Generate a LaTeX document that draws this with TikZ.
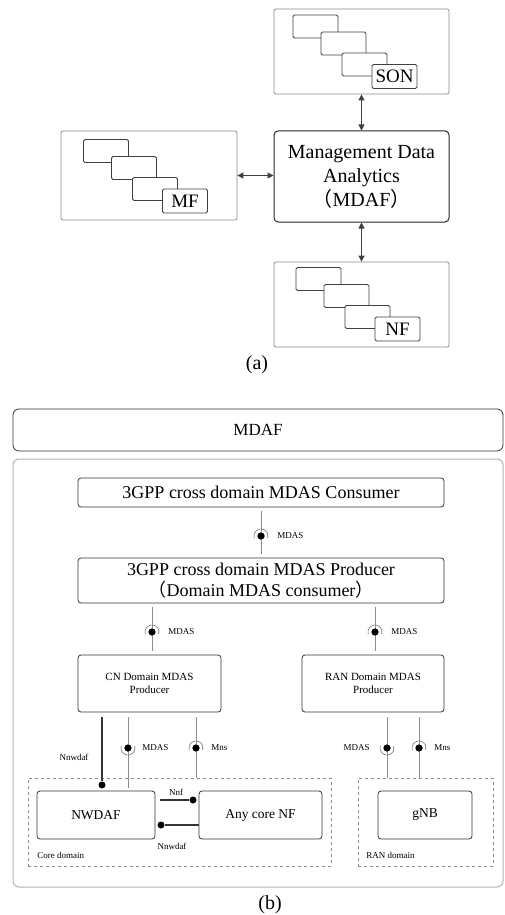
\documentclass[tikz,border=0pt]{standalone}
\usepackage{fontspec}
\setmainfont{Liberation Serif}
\newfontfamily\cjk{Noto Sans CJK SC}
\usetikzlibrary{arrows.meta,positioning}

\newcommand{\fwl}{{\cjk （}}
\newcommand{\fwr}{{\cjk ）}}
% socket arcs round an interface ball
\newcommand{\sockup}[1]{\draw[socket] ([shift={(195:7pt)}]#1.center) arc[start angle=195, end angle=-15, radius=7pt];}
\newcommand{\sockdown}[1]{\draw[socket] ([shift={(165:7pt)}]#1.center) arc[start angle=165, end angle=375, radius=7pt];}

\begin{document}
\begin{tikzpicture}[x=1pt, y=-1pt, semithick,
    frame/.style={draw=black!45, rounded corners=2pt, line width=0.8pt},
    card/.style={draw=black!75, fill=white, rounded corners=1.5pt, minimum width=45pt, minimum height=23pt, inner sep=0pt, line width=0.8pt},
    tag/.style={card, minimum height=24pt, font=\fontsize{19}{19}\selectfont},
    mainbox/.style={draw=black!85, rounded corners=4pt, line width=1pt, align=center},
    block/.style={draw=black!80, rounded corners=3pt, line width=0.8pt, align=center},
    zonebox/.style={draw=black!45, dashed, line width=0.6pt},
    twoway/.style={{Triangle[length=6pt,width=6pt]}-{Triangle[length=6pt,width=6pt]}, draw=black!75, line width=0.9pt},
    ifline/.style={draw=black!45, line width=0.7pt},
    nline/.style={draw=black!80, line width=1.1pt},
    socket/.style={draw=black!55, line width=0.6pt},
    ball/.style={circle, fill=black, inner sep=0pt, minimum size=7pt},
    iflabel/.style={font=\fontsize{9}{11}\selectfont, inner sep=1pt}]
    \useasboundingbox (0,0) rectangle (504,915);

    % (a)
    \node[frame, minimum width=175pt, minimum height=85pt] (son) at (361.5,51.5) {};
    \node[frame, minimum width=176pt, minimum height=89pt] (mf)  at (149,175.5)  {};
    \node[frame, minimum width=175pt, minimum height=85pt] (nf)  at (361.5,304.5) {};
    \foreach \nm/\cx/\cy in {son/394.5/76.5, mf/185/201, nf/397.5/329}{
        \node[card] (\nm-1) at (\cx-79,\cy-50) {};
        \node[card] (\nm-2) at (\cx-51,\cy-33) {};
        \node[card] (\nm-3) at (\cx-30,\cy-12) {};
    }
    \node[tag] (son-tag) at (394.5,76.5) {SON};
    \node[tag] (mf-tag)  at (185,201)    {MF};
    \node[tag] (nf-tag)  at (397.5,329)  {NF};

    \node[mainbox, minimum width=175pt, minimum height=91pt, font=\fontsize{20}{24}\selectfont] (mdaf) at (361.5,176.5)
        {Management Data\\Analytics\\\fwl MDAF\fwr};

    \draw[twoway] (son) -- (mdaf);
    \draw[twoway] (mf.east) -- (mf.east -| mdaf.west);
    \draw[twoway] (mdaf) -- (nf);

    \node[font=\fontsize{20}{24}\selectfont] (cap-a) at (257,365) {(a)};

    % (b)
    \node[block, rounded corners=6pt, minimum width=490pt, minimum height=42pt, font=\fontsize{17}{21}\selectfont] (mdafbar) at (258,430) {MDAF};
    \node[draw=black!30, rounded corners=6pt, line width=1pt, minimum width=490pt, minimum height=428pt] (panel) at (258,673) {};

    \node[block, minimum width=366pt, minimum height=29pt, font=\fontsize{18}{22}\selectfont] (consumer) at (261,492.5)
        {3GPP cross domain MDAS Consumer};
    \node[block, minimum width=366pt, minimum height=45pt, font=\fontsize{18}{21}\selectfont] (producer) at (261,580.5)
        {3GPP cross domain MDAS Producer\\\fwl Domain MDAS consumer\fwr};
    \node[block, minimum width=143pt, minimum height=57pt, font=\fontsize{11}{13}\selectfont] (cn)  at (149.5,683.5) {CN Domain MDAS\\Producer};
    \node[block, minimum width=142pt, minimum height=57pt, font=\fontsize{11}{13}\selectfont] (ran) at (373,683.5)   {RAN Domain MDAS\\Producer};

    \node[zonebox, minimum width=303pt, minimum height=88pt] (core)   at (179.5,822) {};
    \node[zonebox, minimum width=135pt, minimum height=88pt] (random) at (425.5,822) {};
    \node[iflabel, anchor=west] (core-l) at (36,855)  {Core domain};
    \node[iflabel, anchor=west] (ran-l)  at (365,855) {RAN domain};

    \node[block, minimum width=118pt, minimum height=48pt, font=\fontsize{13.5}{16}\selectfont] (nwdaf)  at (96,815)    {NWDAF};
    \node[block, minimum width=123pt, minimum height=48pt, font=\fontsize{13.5}{16}\selectfont] (anynf)  at (260.5,815) {Any core NF};
    \node[block, minimum width=94pt,  minimum height=48pt, font=\fontsize{13.5}{16}\selectfont] (gnb)    at (425,815)   {gNB};

    % service interfaces
    \node[ball] (b-top) at (261,536) {};
    \node[ball] (b-cn)  at (152,632) {};
    \node[ball] (b-ran) at (375,632) {};
    \draw[ifline, shorten <=4pt, shorten >=4pt] (consumer) -- (producer);
    \draw[ifline, shorten <=4pt, shorten >=4pt] (producer.south -| b-cn) -- (cn.north -| b-cn);
    \draw[ifline, shorten <=4pt, shorten >=4pt] (producer.south -| b-ran) -- (ran.north -| b-ran);
    \node[ball] at (b-top) {}; \node[ball] at (b-cn) {}; \node[ball] at (b-ran) {};
    \sockup{b-top} \sockup{b-cn} \sockup{b-ran}
    \node[iflabel, anchor=west] (l-top) at (276,536) {MDAS};
    \node[iflabel, anchor=west] (l-cn)  at (167,632) {MDAS};
    \node[iflabel, anchor=west] (l-ran) at (390,632) {MDAS};

    \node[ball] (b-cm)  at (128,748) {};
    \node[ball] (b-cs)  at (196,748) {};
    \node[ball] (b-rm)  at (387,748) {};
    \node[ball] (b-rs)  at (419,748) {};
    \draw[ifline, shorten <=5pt, shorten >=3pt] (cn.south -| b-cm) -- (nwdaf.north -| b-cm);
    \draw[ifline, shorten <=5pt] (cn.south -| b-cs) -- (core.north -| b-cs);
    \draw[ifline, shorten <=5pt] (ran.south -| b-rm) -- (random.north -| b-rm);
    \draw[ifline, shorten <=5pt] (ran.south -| b-rs) -- (random.north -| b-rs);
    \node[ball] at (b-cm) {}; \node[ball] at (b-cs) {}; \node[ball] at (b-rm) {}; \node[ball] at (b-rs) {};
    \sockdown{b-cm} \sockup{b-cs} \sockdown{b-rm} \sockup{b-rs}
    \node[iflabel, anchor=west] (l-cm) at (141,748) {MDAS};
    \node[iflabel, anchor=west] (l-cs) at (210,748) {Mns};
    \node[iflabel, anchor=east] (l-rm) at (371,748) {MDAS};
    \node[iflabel, anchor=west] (l-rs) at (433,748) {Mns};

    % NWDAF links
    \node[ball] (b-nv)  at (102,785) {};
    \node[ball] (b-nnf) at (193,800) {};
    \node[ball] (b-nh)  at (161,825) {};
    \draw[nline, shorten <=5pt] (cn.south -| b-nv) -- (b-nv);
    \draw[nline] ([xshift=5pt]nwdaf.east |- b-nnf) -- (b-nnf);
    \draw[nline] (anynf.west |- b-nh) -- (b-nh);
    \node[iflabel] (l-nv)  at (74,757)  {Nnwdaf};
    \node[iflabel] (l-nnf) at (176,792) {Nnf};
    \node[iflabel] (l-nh)  at (172,846) {Nnwdaf};

    \node[font=\fontsize{20}{24}\selectfont] (cap-b) at (270,905) {(b)};
\end{tikzpicture}
\end{document}
